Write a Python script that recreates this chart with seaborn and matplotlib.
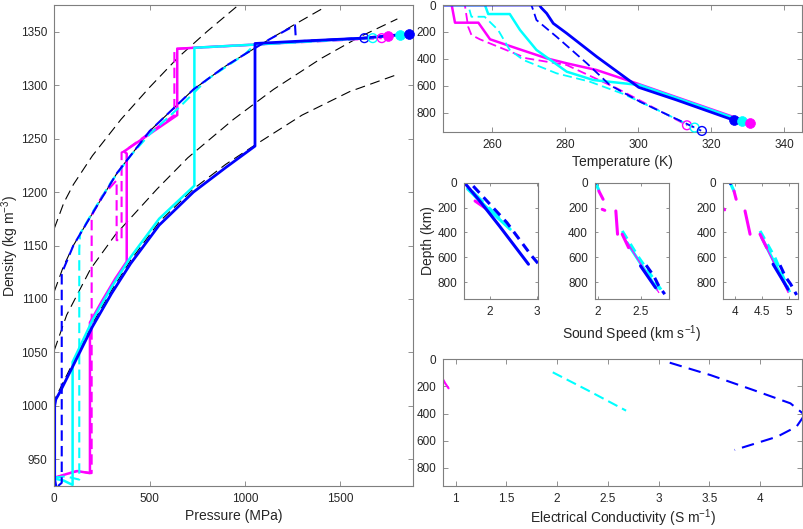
import numpy as np
import pandas as pd
import matplotlib
matplotlib.use("Agg")
import matplotlib.pyplot as plt
import seaborn as sns

sns.set_style("ticks")
plt.rcParams['font.family'] = ['Liberation Sans', 'DejaVu Sans']
plt.rcParams['mathtext.default'] = 'regular'

BLUE = '#0000FF'
CYAN = '#00FFFF'
MAGENTA = '#FF00FF'

# ---------------- Density vs pressure (main panel) ----------------
isoA_P = [0, 50, 100, 200, 350, 500, 650, 800, 1000]
isoA_rho = [1166, 1190, 1207, 1234, 1268, 1298, 1326, 1350, 1380]
isoB_P = [0, 47, 100, 200, 330, 500, 730, 900, 1000, 1130, 1263, 1420]
isoB_rho = [1107, 1130, 1150, 1180, 1218, 1257, 1296, 1318, 1329, 1343, 1357, 1373]
isoC_P = [0, 65, 190, 320, 540, 700, 940, 1150, 1400, 1600, 1800]
isoC_rho = [1052, 1085, 1128, 1160, 1203, 1232, 1268, 1296, 1325, 1345, 1362]
isoD_P = [0, 8, 30, 100, 200, 300, 400, 550, 730, 900, 1053, 1300, 1550, 1800]
isoD_rho = [1000, 1008, 1016, 1041, 1077, 1108, 1136, 1172, 1203, 1226, 1244, 1272, 1294, 1310]

mag_sol_P = [0, 60, 120, 187, 187, 250, 320, 380, 380, 366, 645, 645, 735, 1053, 1620, 1753]
mag_sol_rho = [932, 936, 939, 937, 1078, 1098, 1119, 1135, 1236, 1238, 1272, 1334, 1335, 1338, 1344, 1346]
mag_das_P = [0, 120, 196, 196, 250, 327, 327, 353, 353, 365, 630, 630, 735, 1718]
mag_das_rho = [933, 939, 937, 1178, 1196, 1211, 1155, 1155, 1237, 1238, 1272, 1334, 1335, 1344]
cya_sol_P = [0, 50, 96, 96, 200, 300, 400, 550, 735, 735, 1053, 1620, 1814]
cya_sol_rho = [932, 930, 926, 1041, 1080, 1111, 1139, 1175, 1206, 1335, 1338, 1344, 1347]
cya_das_P = [0, 60, 131, 131, 135, 200, 300, 400, 500, 660, 800, 1000, 1053, 1671]
cya_das_rho = [933, 934, 931, 1146, 1161, 1181, 1210, 1234, 1254, 1280, 1305, 1329, 1338, 1344]
blu_sol_P = [8, 2, 2, 8, 30, 100, 200, 300, 400, 550, 730, 900, 1053, 1053, 1270, 1620, 1863]
blu_sol_rho = [925, 931, 1000, 1006, 1013, 1038, 1074, 1105, 1133, 1169, 1200, 1223, 1243, 1339, 1341, 1344, 1348]
blu_das_P = [20, 39, 39, 100, 200, 330, 500, 730, 900, 1000, 1130, 1263, 1268, 1627]
blu_das_rho = [925, 928, 1124, 1150, 1180, 1218, 1257, 1296, 1318, 1329, 1343, 1356, 1341, 1344]

open_P = [1627, 1671, 1718]
open_rho = [1344, 1344, 1344]
filled_P = [1753, 1814, 1863]
filled_rho = [1346, 1347, 1348]
open_cols = [BLUE, CYAN, MAGENTA]
filled_cols = [MAGENTA, CYAN, BLUE]

# ---------------- Temperature vs depth ----------------
T_blu_sol = [240, 273, 273.5, 275, 276.8, 280.5, 288.7, 300.2, 310.6, 326.4]
z_blu_sol = [0, 0, 20, 62, 136, 210, 383, 610, 704, 855]
T_cya_sol = [240, 258.1, 259, 264.9, 267.7, 272.2, 280.5, 287.8, 300.5, 328.8]
z_cya_sol = [0, 0, 67, 67, 185, 333, 494, 556, 593, 860]
T_mag_sol = [240, 249, 249.9, 256.3, 259.5, 266.8, 275, 280.5, 288.7, 299.6, 331]
z_mag_sol = [0, 0, 131, 131, 254, 321, 395, 432, 482, 580, 875]
T_blu_das = [240, 270.8, 271.3, 272.2, 277.7, 286, 292.3, 300.5, 317.3]
z_blu_das = [0, 0, 37, 111, 235, 432, 593, 716, 931]
T_cya_das = [240, 253.5, 254.4, 258, 261.7, 264.9, 268.6, 277.7, 286.8, 296, 315.5]
z_cya_das = [0, 0, 87, 87, 185, 333, 407, 506, 568, 659, 908]
T_mag_das = [240, 252.6, 253.5, 254.4, 256.7, 269.5, 280.5, 294.2, 313.5]
z_mag_das = [0, 0, 161, 222, 254, 395, 445, 617, 892]

T_filled = [326.2, 328.4, 330.8]
z_filled = [853, 860, 876]
T_open = [313.4, 315.5, 317.5]
z_open = [891, 908, 933]
T_filled_cols = [BLUE, CYAN, MAGENTA]
T_open_cols = [MAGENTA, CYAN, BLUE]

# ---------------- Sound speed panels (segments: v list, z list) ----------------
s1_blu_sol = [([1.465, 1.78, 2.2, 2.82], [5, 147, 348, 655])]
s1_blu_das = [([1.64, 2.36, 2.89, 3.07], [27, 321, 589, 669])]
s1_cya_sol = [([1.52, 2.0, 2.43], [50, 225, 374])]
s1_cya_das = [([1.62, 2.05, 2.35], [70, 230, 340])]
s1_mag_sol = [([1.68, 2.04], [147, 241])]

s2_blu_sol = [([1.962, 1.97], [0, 8]), ([2.5, 2.676], [669, 843])]
s2_blu_das = [([2.566, 2.656, 2.715, 2.785], [663, 749, 830, 896])]
s2_cya_sol = [([1.97, 2.01], [0, 59]), ([2.343, 2.695], [482, 856])]
s2_cya_das = [([2.285, 2.48, 2.77], [388, 602, 888])]
s2_mag_sol = [([2.01, 2.06], [67, 133]), ([2.05, 2.08], [214, 222]),
              ([2.21, 2.23], [227, 414]), ([2.285, 2.36], [414, 522])]
s2_mag_thin = [([2.32, 2.715], [455, 883])]

s3_blu_sol = [([3.907, 3.915], [0, 8]), ([4.71, 4.99], [655, 856])]
s3_blu_das = [([4.84, 4.94, 5.04, 5.15], [663, 755, 816, 902])]
s3_cya_sol = [([3.907, 3.98], [0, 67]), ([4.497, 4.99], [441, 856])]
s3_cya_das = [([4.466, 4.745, 5.02], [388, 602, 880])]
s3_mag_sol = [([3.98, 4.02], [67, 133]), ([3.785, 3.805], [210, 218]),
              ([4.186, 4.28], [227, 414]), ([4.466, 4.59], [414, 522])]
s3_mag_thin = [([4.47, 4.99], [420, 883])]

# ---------------- Electrical conductivity ----------------
c_mag_v = [0.87, 0.895, 0.93]
c_mag_z = [140, 175, 214]
c_cya_v = [1.957, 2.3, 2.68]
c_cya_z = [96, 228, 379]
c_blu_v = [3.11, 3.51, 3.935, 4.30, 4.44, 4.36, 4.17, 3.75]
c_blu_z = [25, 116, 227, 325, 410, 497, 571, 669]

# ======================================================================
W, H = 804, 529
fig = plt.figure(figsize=(W / 100, H / 100), dpi=100)


def add_ax(l, t, r, b):
    return fig.add_axes([l / W, 1 - b / H, (r - l) / W, (b - t) / H])


ax_m = add_ax(54.3, 5, 413, 486)
ax_T = add_ax(443.3, 5, 802, 132.3)
ax_s1 = add_ax(464.3, 182.7, 538.3, 299.3)
ax_s2 = add_ax(595, 182.7, 669, 299.3)
ax_s3 = add_ax(723.3, 182.7, 797.7, 299.3)
ax_c = add_ax(443.3, 359.3, 802, 486)

DASH = (0, (5, 2.5))
BDASH = (0, (9, 5))


def line(ax, x, y, color, lw, ls='-'):
    sns.lineplot(x=x, y=y, sort=False, estimator=None, color=color,
                 linewidth=lw, linestyle=ls, ax=ax)


def segs(ax, segments, color, lw, ls='-'):
    rows = []
    for i, (xs, ys) in enumerate(segments):
        for a, b in zip(xs, ys):
            rows.append((i, a, b))
    df = pd.DataFrame(rows, columns=['u', 'x', 'y'])
    sns.lineplot(data=df, x='x', y='y', units='u', estimator=None, sort=False,
                 color=color, linewidth=lw, linestyle=ls, ax=ax)


def dots(ax, x, y, cols, filled, s):
    for xi, yi, c in zip(x, y, cols):
        if filled:
            sns.scatterplot(x=[xi], y=[yi], color=c, s=s, edgecolor=c,
                            linewidth=0.5, ax=ax, clip_on=False, zorder=5)
        else:
            sns.scatterplot(x=[xi], y=[yi], color=c, s=s, facecolor='none',
                            edgecolor=c, linewidth=1.0, ax=ax, clip_on=False,
                            zorder=5)


# main panel
for P, r in [(isoA_P, isoA_rho), (isoB_P, isoB_rho), (isoC_P, isoC_rho), (isoD_P, isoD_rho)]:
    line(ax_m, P, r, 'black', 0.8, BDASH)
line(ax_m, mag_das_P, mag_das_rho, MAGENTA, 1.5, DASH)
line(ax_m, mag_sol_P, mag_sol_rho, MAGENTA, 1.8)
line(ax_m, cya_das_P, cya_das_rho, CYAN, 1.5, DASH)
line(ax_m, cya_sol_P, cya_sol_rho, CYAN, 1.8)
line(ax_m, blu_das_P, blu_das_rho, BLUE, 1.5, DASH)
line(ax_m, blu_sol_P, blu_sol_rho, BLUE, 2.0)
dots(ax_m, open_P, open_rho, open_cols, False, 40)
dots(ax_m, filled_P, filled_rho, filled_cols, True, 50)

# temperature panel
line(ax_T, T_mag_das, z_mag_das, MAGENTA, 1.3, DASH)
line(ax_T, T_mag_sol, z_mag_sol, MAGENTA, 1.8)
line(ax_T, T_cya_das, z_cya_das, CYAN, 1.3, DASH)
line(ax_T, T_cya_sol, z_cya_sol, CYAN, 1.8)
line(ax_T, T_blu_das, z_blu_das, BLUE, 1.3, DASH)
line(ax_T, T_blu_sol, z_blu_sol, BLUE, 2.0)
dots(ax_T, T_open, z_open, T_open_cols, False, 40)
dots(ax_T, T_filled, z_filled, T_filled_cols, True, 50)

# sound speed panels
segs(ax_s1, s1_mag_sol, MAGENTA, 2.2)
segs(ax_s1, s1_cya_das, CYAN, 2.2, DASH)
segs(ax_s1, s1_cya_sol, CYAN, 2.2)
segs(ax_s1, s1_blu_das, BLUE, 2.2, (0, (3, 2)))
segs(ax_s1, s1_blu_sol, BLUE, 2.2)

segs(ax_s2, s2_cya_das, CYAN, 2.2, (0, (3, 2)))
segs(ax_s2, s2_cya_sol, CYAN, 2.2)
segs(ax_s2, s2_mag_sol, MAGENTA, 2.2)
segs(ax_s2, s2_mag_thin, MAGENTA, 0.9)
segs(ax_s2, s2_blu_das, BLUE, 2.2, (0, (3, 2)))
segs(ax_s2, s2_blu_sol, BLUE, 2.2)

segs(ax_s3, s3_cya_das, CYAN, 2.2, (0, (3, 2)))
segs(ax_s3, s3_cya_sol, CYAN, 2.2)
segs(ax_s3, s3_mag_sol, MAGENTA, 2.2)
segs(ax_s3, s3_mag_thin, MAGENTA, 0.9)
segs(ax_s3, s3_blu_das, BLUE, 2.2, (0, (3, 2)))
segs(ax_s3, s3_blu_sol, BLUE, 2.2)

# conductivity
line(ax_c, c_mag_v, c_mag_z, MAGENTA, 1.5)
line(ax_c, c_cya_v, c_cya_z, CYAN, 1.5, DASH)
line(ax_c, c_blu_v, c_blu_z, BLUE, 1.5, (0, (6, 3.5)))

# ----------------- axes styling -----------------
SPINE = '#7f7f7f'
TXT = '#262626'


def style(ax, tl=3.5):
    for s in ax.spines.values():
        s.set_visible(True)
        s.set_color(SPINE)
        s.set_linewidth(0.8)
    ax.tick_params(direction='in', length=tl, width=0.6, colors=SPINE,
                   labelcolor=TXT, labelsize=8.5, top=True, right=True, pad=5)
    ax.set_xlabel('')
    ax.set_ylabel('')


for a in [ax_m, ax_T, ax_s1, ax_s2, ax_s3, ax_c]:
    style(a)

ax_m.set_xlim(0, 1882)
ax_m.set_ylim(925, 1375)
ax_m.set_xticks([0, 500, 1000, 1500])
ax_m.set_yticks([950, 1000, 1050, 1100, 1150, 1200, 1250, 1300, 1350])
ax_m.set_xlabel('Pressure (MPa)', fontsize=10, color=TXT, labelpad=3)
ax_m.set_ylabel('Density (kg m$^{-3}$)', fontsize=10, color=TXT)
ax_m.yaxis.set_label_coords(-0.094, 0.5)

ax_T.set_xlim(246.7, 344.9)
ax_T.set_ylim(943, 0)
ax_T.set_xticks([260, 280, 300, 320, 340])
ax_T.set_yticks([0, 200, 400, 600, 800])
ax_T.set_xlabel('Temperature (K)', fontsize=10, color=TXT, labelpad=3)

for a in [ax_s1, ax_s2, ax_s3]:
    a.set_ylim(937, 0)
    a.set_yticks([0, 200, 400, 600, 800])
    a.tick_params(length=2.5)
ax_s1.set_xlim(1.45, 3.03)
ax_s1.set_xticks([2, 3])
ax_s1.set_xticklabels(['2', '3'])
ax_s2.set_xlim(1.965, 2.835)
ax_s2.set_xticks([2, 2.5])
ax_s2.set_xticklabels(['2', '2.5'])
ax_s3.set_xlim(3.78, 5.17)
ax_s3.set_xticks([4, 4.5, 5])
ax_s3.set_xticklabels(['4', '4.5', '5'])
ax_s1.set_ylabel('Depth (km)', fontsize=10, color=TXT, labelpad=2)
ax_s2.set_xlabel('Sound Speed (km s$^{-1}$)', fontsize=10, color=TXT, labelpad=4)

ax_c.set_xlim(0.878, 4.414)
ax_c.set_ylim(935, 0)
ax_c.set_xticks([1, 1.5, 2, 2.5, 3, 3.5, 4])
ax_c.set_xticklabels(['1', '1.5', '2', '2.5', '3', '3.5', '4'])
ax_c.set_yticks([0, 200, 400, 600, 800])
ax_c.set_xlabel('Electrical Conductivity (S m$^{-1}$)', fontsize=10, color=TXT, labelpad=1.5)

fig.savefig('out.png', dpi=100)
